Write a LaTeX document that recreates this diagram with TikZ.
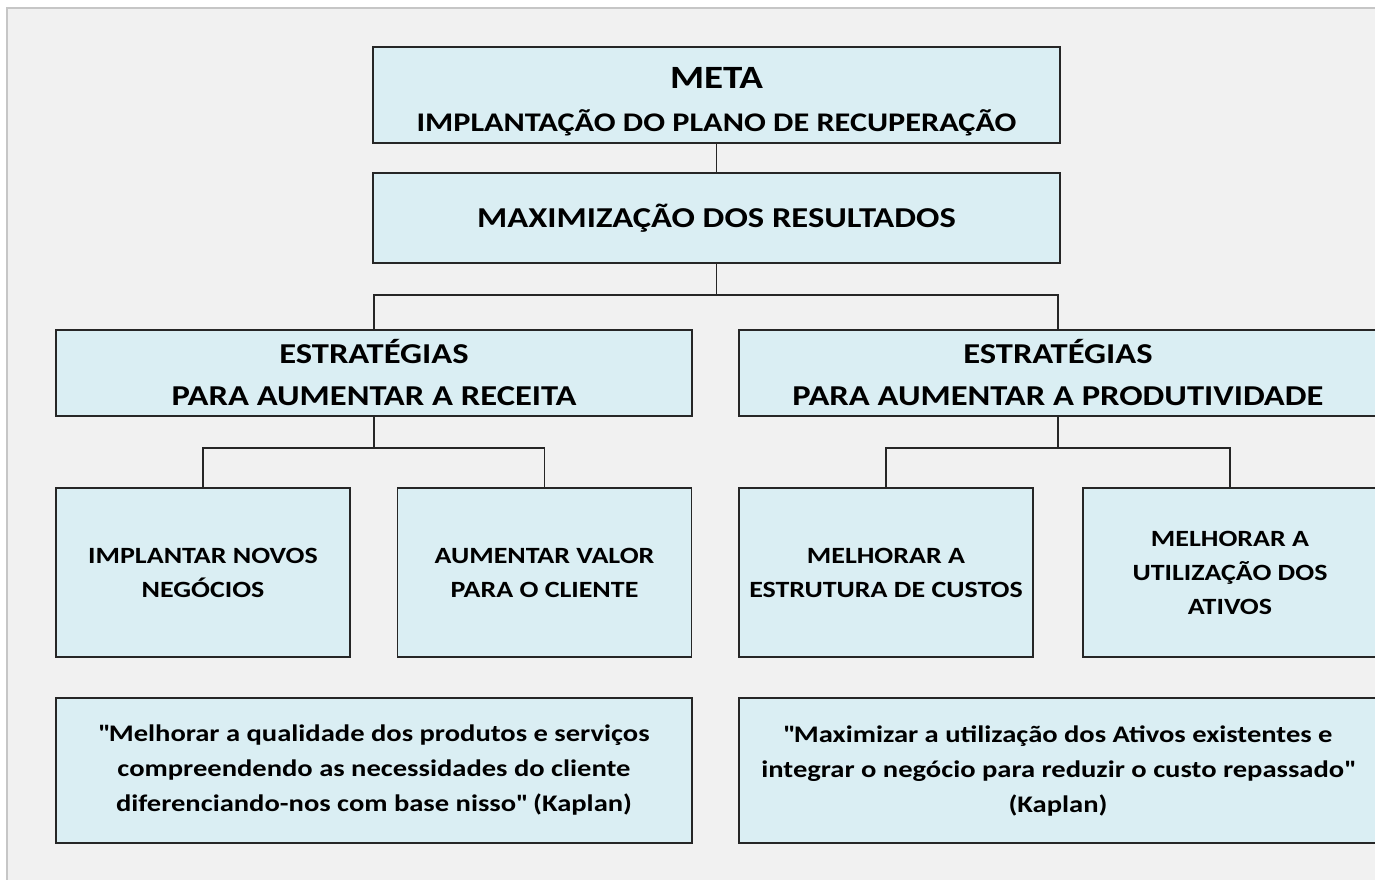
\documentclass[tikz,border=0pt]{standalone}
\usepackage{fontspec}
\setmainfont{Carlito}[FakeStretch=1.2]
\definecolor{boxfill}{HTML}{DAEEF3}
\definecolor{boxline}{HTML}{262626}
\definecolor{sheet}{HTML}{F1F1F1}
\definecolor{sheetline}{HTML}{C6C6C6}
\newcommand{\titlesize}{\bfseries\fontsize{28.8}{42}\selectfont}
\newcommand{\metasize}{\bfseries\fontsize{26.9}{43}\selectfont}
\newcommand{\itemsize}{\bfseries\fontsize{23.3}{34}\selectfont}
\newcommand{\quotesize}{\bfseries\fontsize{23.8}{35}\selectfont}
\begin{document}
\begin{tikzpicture}[
            x=1pt, y=-1pt,
            every node/.style={draw=boxline, line width=1.6pt, fill=boxfill, inner sep=0pt, outer sep=0pt, align=center},
            titlebox/.style={font=\titlesize, minimum width=687pt},
            itembox/.style={font=\itemsize, minimum width=294pt, minimum height=169pt},
            quotebox/.style={font=\quotesize, minimum height=145pt},
            link/.style={draw=boxline, line width=1.4pt}
          ]
          \useasboundingbox (0,0) rectangle (1375,880);
          \clip (0,0) rectangle (1375,880);

          % Sheet behind the chart
          \fill[sheet] (7,8) rectangle (1380,885);
          \draw[sheetline, line width=1.2pt] (7,885) -- (7,8) -- (1380,8);

          % Top of the chart
          \node[titlebox, font=\metasize, minimum height=96pt] (meta) at (716.5,95) {{\fontsize{32.5}{43}\selectfont\rule{0pt}{34pt}META}\\IMPLANTAÇÃO DO PLANO DE RECUPERAÇÃO};
          \node[titlebox, minimum height=90pt] (maxres) at (716.5,218) {MAXIMIZAÇÃO DOS RESULTADOS};

          % Strategies
          \node[titlebox, minimum width=636pt, minimum height=86pt] (estrec) at (374,373) {ESTRATÉGIAS\\PARA AUMENTAR A RECEITA};
          \node[titlebox, minimum width=638pt, minimum height=86pt] (estprod) at (1058,373) {ESTRATÉGIAS\\PARA AUMENTAR A PRODUTIVIDADE};

          % Actions
          \node[itembox] (novos) at (203,572.5) {IMPLANTAR NOVOS\\NEGÓCIOS};
          \node[itembox] (valor) at (544.5,572.5) {AUMENTAR VALOR\\PARA O CLIENTE};
          \node[itembox] (custos) at (886,572.5) {MELHORAR A\\ESTRUTURA DE CUSTOS};
          \node[itembox] (ativos) at (1230,572.5) {MELHORAR A\\UTILIZAÇÃO DOS\\ATIVOS};

          % Quotes
          \node[quotebox, minimum width=636pt] (citrec) at (374,770.5) {\textquotedbl Melhorar a qualidade dos produtos e serviços\\compreendendo as necessidades do cliente\\diferenciando-nos com base nisso\textquotedbl{} (Kaplan)};
          \node[quotebox, minimum width=638pt] (citprod) at (1058,770.5) {\textquotedbl Maximizar a utilização dos Ativos existentes e\\integrar o negócio para reduzir o custo repassado\textquotedbl\\(Kaplan)};

          % Connectors
          \draw[link] (meta) -- (maxres);
          \draw[link] (maxres.south) -- ++(0,32) -| (estrec.north);
          \draw[link] (maxres.south) -- ++(0,32) -| (estprod.north);
          \draw[link] (estrec.south) -- ++(0,32) -| (novos.north);
          \draw[link] (estrec.south) -- ++(0,32) -| (valor.north);
          \draw[link] (estprod.south) -- ++(0,32) -| (custos.north);
          \draw[link] (estprod.south) -- ++(0,32) -| (ativos.north);

        \end{tikzpicture}
\end{document}
